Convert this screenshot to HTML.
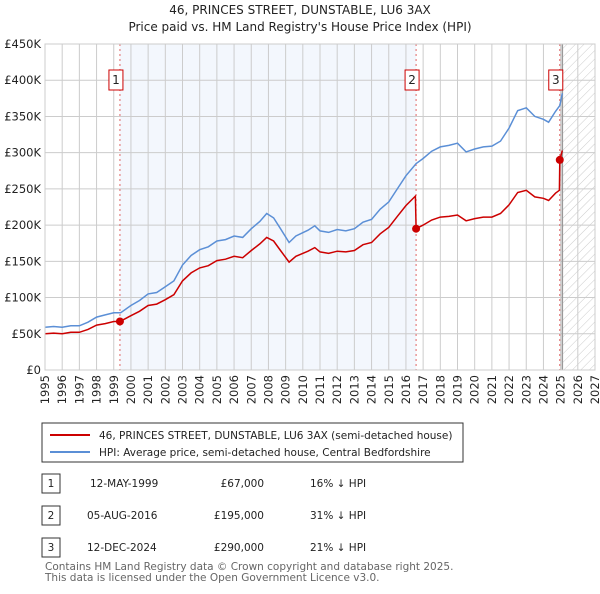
<!DOCTYPE html>
<html><head><meta charset="utf-8"><style>
body{margin:0;background:#fff;font-family:"DejaVu Sans",sans-serif;}
svg text{font-family:"DejaVu Sans",sans-serif;}
</style></head><body>
<svg id="c" width="600" height="590" xmlns="http://www.w3.org/2000/svg">
<defs><pattern id="hatch" width="6" height="6" patternUnits="userSpaceOnUse" patternTransform="rotate(45)"><line x1="0" y1="0" x2="0" y2="6" stroke="#ccc" stroke-width="1"/></pattern></defs>
<text x="300" y="14" text-anchor="middle" font-size="12" fill="#222">46, PRINCES STREET, DUNSTABLE, LU6 3AX</text>
<text x="300" y="31" text-anchor="middle" font-size="12" fill="#222">Price paid vs. HM Land Registry's House Price Index (HPI)</text>
<g id="plot"></g>
<g>
<rect x="42" y="423" width="421" height="39" fill="#fff" stroke="#333" stroke-width="1"/>
<line x1="50" y1="435" x2="90" y2="435" stroke="#cc0000" stroke-width="2"/>
<text x="99" y="439" font-size="10.5" fill="#222">46, PRINCES STREET, DUNSTABLE, LU6 3AX (semi-detached house)</text>
<line x1="50" y1="452" x2="90" y2="452" stroke="#5b8fd6" stroke-width="2"/>
<text x="99" y="456" font-size="10.5" fill="#222">HPI: Average price, semi-detached house, Central Bedfordshire</text>
</g>
<g font-size="10.5" fill="#222">
<rect x="42" y="474" width="18" height="19" fill="#fff" stroke="#333"/><text x="51" y="487" text-anchor="middle">1</text>
<text x="90" y="487">12-MAY-1999</text><text x="264" y="487" text-anchor="end">£67,000</text><text x="310" y="487">16% ↓ HPI</text>
<rect x="42" y="506" width="18" height="19" fill="#fff" stroke="#333"/><text x="51" y="519" text-anchor="middle">2</text>
<text x="87" y="519">05-AUG-2016</text><text x="264" y="519" text-anchor="end">£195,000</text><text x="310" y="519">31% ↓ HPI</text>
<rect x="42" y="538" width="18" height="19" fill="#fff" stroke="#333"/><text x="51" y="551" text-anchor="middle">3</text>
<text x="87" y="551">12-DEC-2024</text><text x="264" y="551" text-anchor="end">£290,000</text><text x="310" y="551">21% ↓ HPI</text>
</g>
<text x="45" y="570" font-size="10.5" fill="#666">Contains HM Land Registry data © Crown copyright and database right 2025.</text>
<text x="45" y="581" font-size="10.5" fill="#666">This data is licensed under the Open Government Licence v3.0.</text>
</svg>
<script>
const hpiYears=[1995,1995.5,1996,1996.5,1997,1997.5,1998,1998.5,1999,1999.4,2000,2000.5,2001,2001.5,2002,2002.5,2003,2003.5,2004,2004.5,2005,2005.5,2006,2006.5,2007,2007.5,2007.9,2008.3,2008.7,2009.2,2009.6,2010.3,2010.7,2011,2011.5,2012,2012.5,2013,2013.5,2014,2014.5,2015,2015.5,2016,2016.6,2017,2017.5,2018,2018.5,2019,2019.5,2020,2020.5,2021,2021.5,2022,2022.5,2023,2023.5,2024,2024.3,2024.7,2024.95,2025.1];
const hpiValues=[59,60,59,61,61,66,73,76,79,79,89,96,105,107,115,123,145,158,166,170,178,180,185,183,195,205,216,210,195,176,185,193,199,192,190,194,192,195,204,208,222,232,250,268,285,292,302,308,310,313,301,305,308,309,316,334,358,362,350,346,342,357,365,382];
const priceYears=[1995,1995.5,1996,1996.5,1997,1997.5,1998,1998.5,1999,1999.36,2000,2000.5,2001,2001.5,2002,2002.5,2003,2003.5,2004,2004.5,2005,2005.5,2006,2006.5,2007,2007.5,2007.9,2008.3,2008.7,2009.2,2009.6,2010.3,2010.7,2011,2011.5,2012,2012.5,2013,2013.5,2014,2014.5,2015,2015.5,2016,2016.55,2016.59,2017,2017.5,2018,2018.5,2019,2019.5,2020,2020.5,2021,2021.5,2022,2022.5,2023,2023.5,2024,2024.3,2024.7,2024.93,2024.95,2025.1];
const priceValues=[50,51,50,52,52,56,62,64,67,67,75,81,89,91,97,104,123,134,141,144,151,153,157,155,165,174,183,178,165,149,157,164,169,163,161,164,163,165,173,176,188,197,212,227,240,195,200,207,211,212,214,206,209,211,211,216,228,245,248,239,237,234,244,248,290,303];
const saleYears=[1999.36,2016.59,2024.95];
const salePrices=[67,195,290];
const saleLabels=["1","2","3"];
const yTicks=[0,50,100,150,200,250,300,350,400,450];
const yTickLabels=["£0","£50K","£100K","£150K","£200K","£250K","£300K","£350K","£400K","£450K"];
const xTicks=[];for(let y=1995;y<=2027;y++)xTicks.push(y);

const L=45,R=595,T=44,B=370;
const X=y=>L+(y-1995)/(2027-1995)*(R-L);
const Y=v=>B-v/450*(B-T);
const NS="http://www.w3.org/2000/svg";
const g=document.getElementById('plot');
function mk(tag,attrs,parent){const e=document.createElementNS(NS,tag);for(const k in attrs)e.setAttribute(k,attrs[k]);(parent||g).appendChild(e);return e;}

let e=mk('rect',{x:X(saleYears[0]),y:T,width:X(saleYears[1])-X(saleYears[0]),height:B-T,fill:'#eef3fc',opacity:0.7});


e=mk('rect',{x:X(2025.1),y:T,width:R-X(2025.1),height:B-T,fill:'url(#hatch)'});


yTicks.forEach((v,i)=>{
 let l=mk('line',{x1:L,x2:R,y1:Y(v),y2:Y(v),stroke:'#ccc','stroke-width':1});
 
 
 let t=mk('text',{x:L-4,y:Y(v)+4,'text-anchor':'end','font-size':11.5,fill:'#222'});t.textContent=yTickLabels[i];
 
 
});
xTicks.forEach(y=>{
 let l=mk('line',{x1:X(y),x2:X(y),y1:T,y2:B,stroke:'#ccc','stroke-width':1});
 
 
 let t=mk('text',{x:0,y:0,'text-anchor':'end','font-size':11.5,fill:'#222',transform:`translate(${X(y)+4},${B+5}) rotate(-90)`});t.textContent=y;
 
 
});
e=mk('line',{x1:X(2025.1),x2:X(2025.1),y1:T,y2:B,stroke:'#999','stroke-width':1.5});


saleYears.forEach((y,i)=>{
 let l=mk('line',{x1:X(y),x2:X(y),y1:T,y2:B,stroke:'#e06666','stroke-width':1,'stroke-dasharray':'2,3'});
 
 
});
const pts=(xs,vs)=>xs.map((x,i)=>X(x).toFixed(1)+','+Y(vs[i]).toFixed(1)).join(' ');
e=mk('polyline',{points:pts(hpiYears,hpiValues),fill:'none',stroke:'#5b8fd6','stroke-width':1.5});


e=mk('polyline',{points:pts(priceYears,priceValues),fill:'none',stroke:'#cc0000','stroke-width':1.5});


saleYears.forEach((y,i)=>{
 let c=mk('circle',{cx:X(y),cy:Y(salePrices[i]),r:4,fill:'#cc0000'});
 
 
 let r=mk('rect',{x:X(y)-11,y:70,width:14,height:20,fill:'#fff',stroke:'#cc0000'});
 
 
 let t=mk('text',{x:X(y)-4,y:84,'text-anchor':'middle','font-size':12,fill:'#222'});t.textContent=saleLabels[i];
 
 
});
e=mk('rect',{x:L,y:T,width:R-L,height:B-T,fill:'none',stroke:'#ccc'});


</script>
</body></html>
